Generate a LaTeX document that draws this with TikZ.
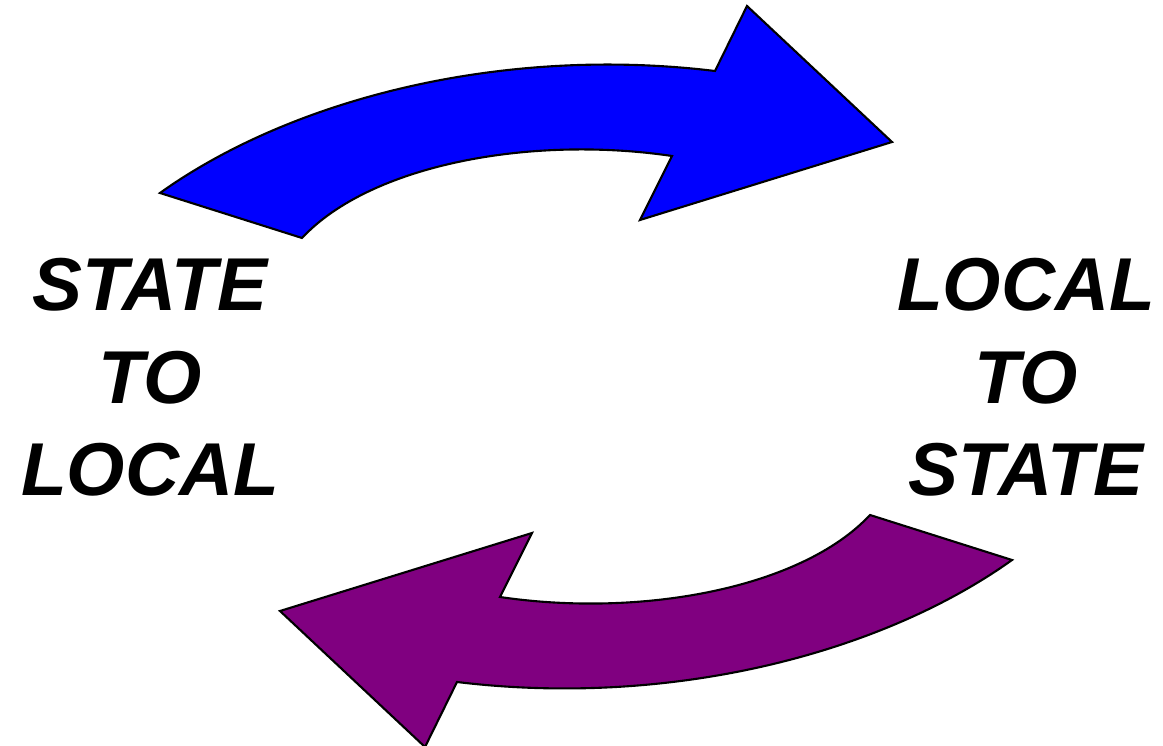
\documentclass[tikz,border=0pt]{standalone}
\usepackage{fontspec}
\setmainfont{Liberation Sans}
\definecolor{arrowblue}{RGB}{0,0,255}
\definecolor{arrowpurple}{RGB}{128,0,128}
\tikzset{
  bigarrow/.style={draw=black, line width=0.6pt, line join=miter},
  klabel/.style={align=center, inner sep=0pt, font=\fontsize{21.3pt}{26.3pt}\selectfont\bfseries\itshape},
}

\begin{document}
\begin{tikzpicture}[x=0.01cm, y=-0.01cm]
    \useasboundingbox (0,0) rectangle (1163,746);
    % top arrow, left to right
    \path[bigarrow, fill=arrowblue] (160,193) .. controls (290,100) and (500,45) .. (715,71)
      -- (747,6) -- (892,142) -- (640,220) -- (672,156)
      .. controls (530,135) and (370,165) .. (302,238) -- cycle;
    % bottom arrow, right to left
    \path[bigarrow, fill=arrowpurple] (1012,560) .. controls (882,653) and (672,708) .. (457,682)
      -- (425,747) -- (280,611) -- (532,533) -- (500,597)
      .. controls (642,618) and (802,588) .. (870,515) -- cycle;
    \node[klabel] (statetolocal) at (150,377.5) {STATE\\TO\\LOCAL};
    \node[klabel] (localtostate) at (1026,377.5) {LOCAL\\TO\\STATE};
  \end{tikzpicture}
\end{document}
